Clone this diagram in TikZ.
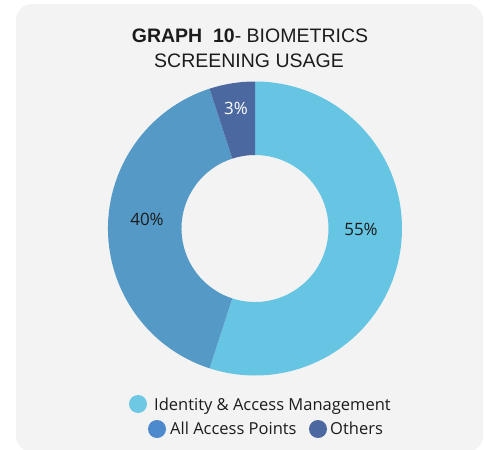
\documentclass[tikz,border=0pt]{standalone}
\usepackage{fontspec}
\setmainfont{Open Sans}
\newfontfamily\titlefont{Liberation Sans}
\usetikzlibrary{calc}

\definecolor{panelgray}{HTML}{F3F3F3}
\definecolor{idamblue}{HTML}{66C5E3}
\definecolor{pointsblue}{HTML}{5599C7}
\definecolor{othersblue}{HTML}{4B69A0}
\definecolor{inkdark}{HTML}{1C1C1C}

\tikzset{
  pct/.style={font=\fontsize{17}{20}\selectfont, text=inkdark},
  legdot/.style={circle, inner sep=0pt, minimum size=18pt},
  legtext/.style={anchor=base west, font=\fontsize{16.5}{20}\selectfont, text=inkdark, inner sep=0pt},
  titleline/.style={anchor=base, font=\titlefont\fontsize{19.5}{24}\selectfont, text=inkdark, inner sep=0pt}
}

\begin{document}
\begin{tikzpicture}[x=1pt, y=-1pt]
      \useasboundingbox (0,0) rectangle (485,450);
      \fill[panelgray, rounded corners=16pt] (16,4) rectangle (483,452);
      % title
      \node[titleline] (title1) at (250,42) {\textbf{GRAPH\ \ 10}- BIOMETRICS};
      \node[titleline] (title2) at (249,67) {SCREENING USAGE};
      % donut
      \coordinate (c) at (255,228.5);
      \foreach \a/\b/\col in {-90/108/idamblue, 108/252/pointsblue, 252/270/othersblue}
        \fill[\col] ($(c)+(\a:147)$) arc[start angle=\a, end angle=\b, radius=147]
          -- ($(c)+(\b:73.5)$) arc[start angle=\b, end angle=\a, radius=73.5] -- cycle;
      \draw
        (361,229) node[pct] (p55){55\%}
        (147,219) node[pct] (p40){40\%}
        (236,108) node[pct, text=white] (p3){3\%};
      % legend
      \draw
        (138,404) node[legdot, fill=idamblue!95!white] (dot1){}
        (157,429) node[legdot, fill=pointsblue!90!blue] (dot2){}
        (318,429) node[legdot, fill=othersblue] (dot3){};
      \node[legtext] (leg1) at (154,410) {Identity \& Access Management};
      \node[legtext] (leg2) at (170,434) {All Access Points};
      \node[legtext] (leg3) at (330,434) {Others};
    \end{tikzpicture}
\end{document}
